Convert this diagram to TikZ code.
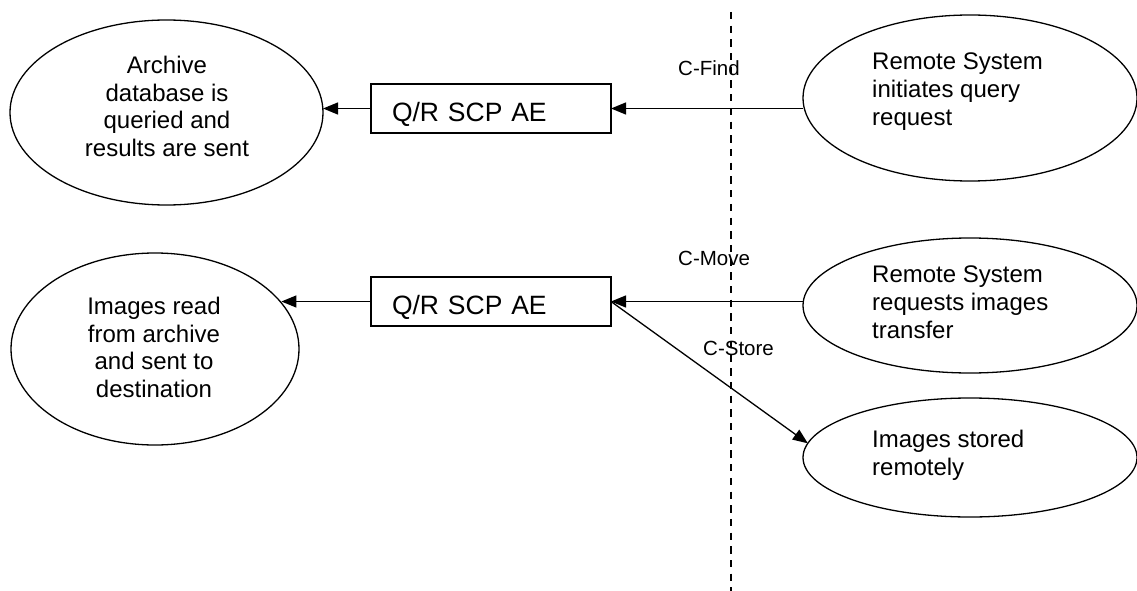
\documentclass[tikz,border=0pt]{standalone}
\usepackage{fontspec}
\setmainfont{Liberation Sans}
\usetikzlibrary{arrows.meta,shapes.geometric}
\begin{document}
\begin{tikzpicture}[x=1pt,y=-1pt,
  oval/.style={draw,ellipse,line width=1.3pt,inner sep=0pt,outer sep=0pt},
  aebox/.style={draw,rectangle,line width=1.3pt,minimum width=240pt,minimum height=49pt,
    inner xsep=21pt,inner ysep=0pt,outer sep=0pt,text width=198pt,align=left,
    text height=26.4pt,text depth=0pt,font=\fontsize{26.5}{30}\selectfont},
  ovaltext/.style={inner sep=0pt,font=\fontsize{24}{27.7}\selectfont},
  lbl/.style={inner sep=0pt,anchor=base west,font=\fontsize{20.5}{24}\selectfont},
  arr/.style={line width=1.3pt,-{Triangle[length=15pt,width=12pt]}},
  divider/.style={line width=1.8pt,dash pattern=on 7.3pt off 6.4pt}]
\useasboundingbox (0,0) rectangle (1137,591);
% ellipses
\node[oval,minimum width=313pt,minimum height=185pt] (arch) at (166.5,112.5) {};
\node[oval,minimum width=288pt,minimum height=192pt] (img) at (155,349) {};
\node[oval,minimum width=334pt,minimum height=166pt] (rem1) at (970,98) {};
\node[oval,minimum width=334pt,minimum height=135pt] (rem2) at (970,305.5) {};
\node[oval,minimum width=334pt,minimum height=119pt] (store) at (970,457.5) {};
% ellipse texts
\node[ovaltext,anchor=north,align=center] (archt) at (167,56) {Archive\\database is\\queried and\\results are sent};
\node[ovaltext,anchor=north,align=center] (imgt) at (154,297) {Images read\\from archive\\and sent to\\destination};
\node[ovaltext,anchor=north west,align=left] (rem1t) at (872,53) {Remote System\\initiates query\\request};
\node[ovaltext,anchor=north west,align=left] (rem2t) at (872,266) {Remote System\\requests images\\transfer};
\node[ovaltext,anchor=north west,align=left] (storet) at (872,430) {Images stored\\remotely};
% boxes
\node[aebox] (box1) at (491,108.5) {Q/R SCP AE};
\node[aebox] (box2) at (491,301.5) {Q/R SCP AE};
% labels
\node[lbl] (find) at (678,76) {C-Find};
\node[lbl] (move) at (678,265) {C-Move};
\node[lbl] (cstore) at (703,355) {C-Store};
% connectors
\draw[arr] (box1.west) -- (box1.west -| arch.east);
\draw[arr] (rem1.west |- box1.east) -- (box1.east);
\draw[arr] (box2.west) -- (box2.west -| img.20.8);
\draw[arr] (rem2.west |- box2.east) -- (box2.east);
\draw[arr] (box2.east) -- (store.175);
% divider
\coordinate (dtop) at (731,12);
\coordinate (dbot) at (731,591);
\draw[divider] (dtop) -- (dbot);
\end{tikzpicture}
\end{document}
